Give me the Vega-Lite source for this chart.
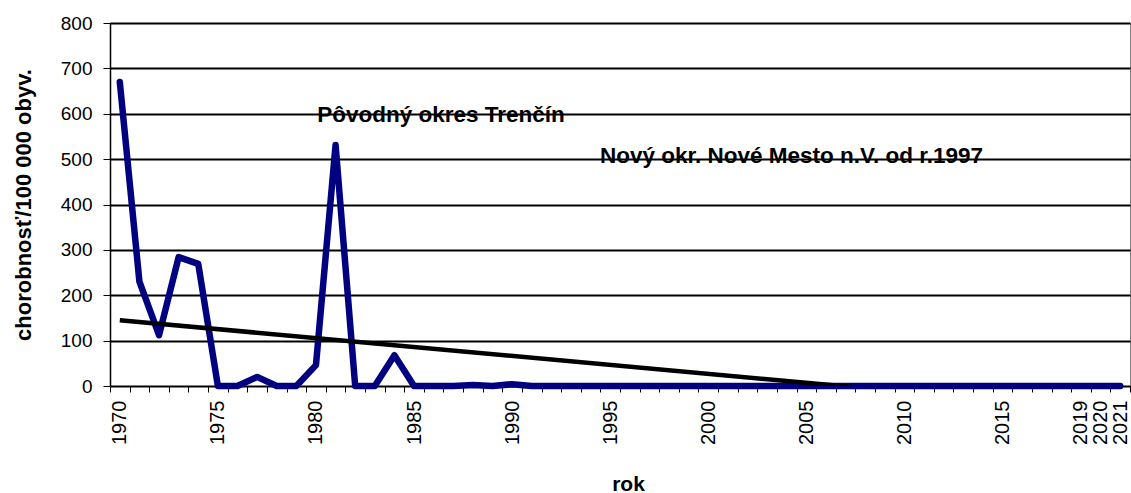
{
  "$schema": "https://vega.github.io/schema/vega-lite/v6.json",
  "width": 1020,
  "height": 363,
  "autosize": "none",
  "padding": {"left": 110, "top": 23, "right": 1, "bottom": 107},
  "background": "white",
  "config": {
    "view": {"stroke": "#808080", "strokeWidth": 1},
    "font": "Liberation Sans"
  },
  "datasets": {
    "series": [
      {"rok": 1970, "hodnota": 670},
      {"rok": 1971, "hodnota": 230},
      {"rok": 1972, "hodnota": 112},
      {"rok": 1973, "hodnota": 284},
      {"rok": 1974, "hodnota": 269},
      {"rok": 1975, "hodnota": 0},
      {"rok": 1976, "hodnota": 0},
      {"rok": 1977, "hodnota": 20},
      {"rok": 1978, "hodnota": 0},
      {"rok": 1979, "hodnota": 0},
      {"rok": 1980, "hodnota": 46},
      {"rok": 1981, "hodnota": 531},
      {"rok": 1982, "hodnota": 0},
      {"rok": 1983, "hodnota": 0},
      {"rok": 1984, "hodnota": 68},
      {"rok": 1985, "hodnota": 0},
      {"rok": 1986, "hodnota": 0},
      {"rok": 1987, "hodnota": 0},
      {"rok": 1988, "hodnota": 2},
      {"rok": 1989, "hodnota": 0},
      {"rok": 1990, "hodnota": 4},
      {"rok": 1991, "hodnota": 0},
      {"rok": 1992, "hodnota": 0},
      {"rok": 1993, "hodnota": 0},
      {"rok": 1994, "hodnota": 0},
      {"rok": 1995, "hodnota": 0},
      {"rok": 1996, "hodnota": 0},
      {"rok": 1997, "hodnota": 0},
      {"rok": 1998, "hodnota": 0},
      {"rok": 1999, "hodnota": 0},
      {"rok": 2000, "hodnota": 0},
      {"rok": 2001, "hodnota": 0},
      {"rok": 2002, "hodnota": 0},
      {"rok": 2003, "hodnota": 0},
      {"rok": 2004, "hodnota": 0},
      {"rok": 2005, "hodnota": 0},
      {"rok": 2006, "hodnota": 0},
      {"rok": 2007, "hodnota": 0},
      {"rok": 2008, "hodnota": 0},
      {"rok": 2009, "hodnota": 0},
      {"rok": 2010, "hodnota": 0},
      {"rok": 2011, "hodnota": 0},
      {"rok": 2012, "hodnota": 0},
      {"rok": 2013, "hodnota": 0},
      {"rok": 2014, "hodnota": 0},
      {"rok": 2015, "hodnota": 0},
      {"rok": 2016, "hodnota": 0},
      {"rok": 2017, "hodnota": 0},
      {"rok": 2018, "hodnota": 0},
      {"rok": 2019, "hodnota": 0},
      {"rok": 2020, "hodnota": 0},
      {"rok": 2021, "hodnota": 0}
    ],
    "trend": [
      {"rok": 1970, "hodnota": 145},
      {"rok": 2021, "hodnota": -56}
    ],
    "notes": [
      {"rok": 1986.37, "hodnota": 597, "popis": "Pôvodný okres Trenčín"},
      {"rok": 2004.24, "hodnota": 507, "popis": "Nový okr. Nové Mesto n.V. od r.1997"}
    ]
  },
  "encoding": {
    "x": {
      "field": "rok",
      "type": "quantitative",
      "scale": {"domain": [1969.5, 2021.5], "nice": false, "zero": false},
      "axis": {
        "title": "rok",
        "values": [1969.5, 1970.5, 1971.5, 1972.5, 1973.5, 1974.5, 1975.5, 1976.5, 1977.5, 1978.5, 1979.5, 1980.5, 1981.5, 1982.5, 1983.5, 1984.5, 1985.5, 1986.5, 1987.5, 1988.5, 1989.5, 1990.5, 1991.5, 1992.5, 1993.5, 1994.5, 1995.5, 1996.5, 1997.5, 1998.5, 1999.5, 2000.5, 2001.5, 2002.5, 2003.5, 2004.5, 2005.5, 2006.5, 2007.5, 2008.5, 2009.5, 2010.5, 2011.5, 2012.5, 2013.5, 2014.5, 2015.5, 2016.5, 2017.5, 2018.5, 2019.5, 2020.5, 2021.5],
        "labelExpr": "((datum.value + 0.5) % 5 == 0 && datum.value < 2021) || (datum.value + 0.5 >= 2019 && datum.value + 0.5 <= 2021) ? format(datum.value + 0.5, 'd') : ''",
        "labelOffset": 9.8,
        "labelAngle": -90,
        "labelFontSize": 20,
        "labelColor": "black",
        "labelPadding": 8,
        "labelOverlap": false,
        "labelFlush": false,
        "labelBound": false,
        "tickSize": 6,
        "tickColor": "black",
        "domainColor": "black",
        "domainWidth": 1,
        "grid": false,
        "titleFontSize": 21,
        "titleFontWeight": "bold",
        "titleColor": "black",
        "titleX": 518,
        "titleY": 98,
        "titleBaseline": "middle"
      }
    },
    "y": {
      "field": "hodnota",
      "type": "quantitative",
      "scale": {"domain": [0, 800], "nice": false},
      "axis": {
        "title": "chorobnosť/100 000 obyv.",
        "values": [0, 100, 200, 300, 400, 500, 600, 700, 800],
        "grid": true,
        "gridColor": "black",
        "gridWidth": 2,
        "gridOpacity": 1,
        "domainColor": "black",
        "domainWidth": 1.5,
        "tickColor": "black",
        "tickSize": 7,
        "labelFontSize": 19,
        "labelColor": "black",
        "labelPadding": 11,
        "titleFontSize": 22,
        "titleFontWeight": "bold",
        "titleColor": "black",
        "titleX": -87,
        "titleY": 181.5,
        "titleAngle": -90,
        "titleAlign": "center",
        "titleBaseline": "middle"
      }
    }
  },
  "layer": [
    {
      "data": {"name": "series"},
      "mark": {"type": "line", "color": "#000080", "strokeWidth": 6.5, "strokeCap": "round", "strokeJoin": "round"}
    },
    {
      "data": {"name": "trend"},
      "mark": {"type": "line", "color": "black", "strokeWidth": 4.5, "clip": true}
    },
    {
      "data": {"name": "notes"},
      "mark": {"type": "text", "fontSize": 22.5, "fontWeight": "bold", "align": "center", "baseline": "middle", "color": "black"},
      "encoding": {"text": {"field": "popis", "type": "nominal"}}
    }
  ]
}
